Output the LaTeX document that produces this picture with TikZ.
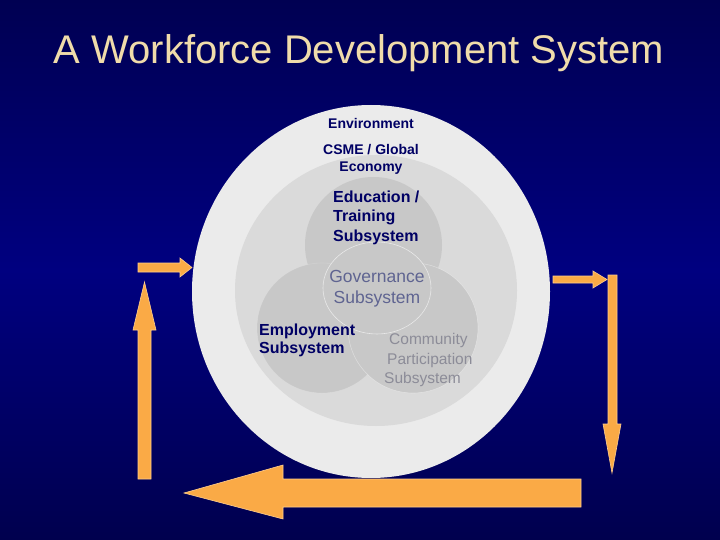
\documentclass[tikz,border=0pt]{standalone}
\usepackage{fontspec}
\setmainfont{Liberation Sans}
\definecolor{bgtop}{RGB}{0,0,82}
\definecolor{bgmid}{RGB}{0,0,128}
\definecolor{bgbot}{RGB}{0,0,78}
\definecolor{titlecol}{RGB}{240,220,170}
\definecolor{navytext}{RGB}{0,0,100}
\definecolor{govtext}{RGB}{95,100,145}
\definecolor{commtext}{RGB}{140,140,152}
\definecolor{outerfill}{RGB}{235,235,235}
\definecolor{midfill}{RGB}{218,218,218}
\definecolor{subfill}{RGB}{200,200,200}
\definecolor{arrowfill}{RGB}{250,170,70}
\definecolor{arrowedge}{RGB}{255,205,140}
\tikzset{
  arrowshape/.style={fill=arrowfill,draw=arrowedge,line width=0.6pt,line join=miter},
  subcircle/.style={fill=subfill,draw=white,draw opacity=0.45,line width=0.6pt},
  smalllabel/.style={font=\fontsize{14}{17}\selectfont\bfseries,text=navytext,inner sep=0pt,align=center},
  boldlabel/.style={font=\fontsize{16}{19}\selectfont\bfseries,text=navytext,inner sep=0pt,anchor=base west},
  govlabel/.style={font=\fontsize{17.5}{21}\selectfont,text=govtext,inner sep=0pt,anchor=base},
  commlabel/.style={font=\fontsize{15.5}{19}\selectfont,text=commtext,inner sep=0pt,anchor=base west},
}
\begin{document}
\begin{tikzpicture}[x=1pt,y=-1pt]
\useasboundingbox (0,0) rectangle (720,540);
% background
\shade[top color=bgtop,bottom color=bgbot,middle color=bgmid] (0,0) rectangle (720,540);
% title
\node[font=\fontsize{40}{46}\selectfont,text=titlecol,anchor=base,inner sep=0pt] (title) at (359,64) {A Workforce Development System};
% circles
\fill[outerfill] (371,291.5) ellipse [x radius=179,y radius=186.5];
\fill[midfill] (376,290.5) ellipse [x radius=141,y radius=135.5];
\fill[subfill] (373.5,245) ellipse [x radius=68.5,y radius=68];
\draw[subcircle,draw opacity=0.15] (322,328) circle [radius=65];
\draw[subcircle,draw opacity=0.35] (413,328) circle [radius=65];
\draw[subcircle,fill opacity=1,draw opacity=0.6] (377,288) ellipse [x radius=54,y radius=46];
% labels
\node[smalllabel,anchor=base] (env) at (371,129) {Environment};
\node[smalllabel,anchor=base] (csme1) at (371,155) {CSME / Global};
\node[smalllabel,anchor=base] (csme2) at (371,172) {Economy};
\node[boldlabel] (edu1) at (333,203) {Education /};
\node[boldlabel] (edu2) at (333,222) {Training};
\node[boldlabel] (edu3) at (333,241) {Subsystem};
\node[govlabel] (gov1) at (377,282) {Governance};
\node[govlabel] (gov2) at (377,303) {Subsystem};
\node[boldlabel] (emp1) at (259,335) {Employment};
\node[boldlabel] (emp2) at (259,353) {Subsystem};
\node[commlabel] (com1) at (389,344) {Community};
\node[commlabel] (com2) at (387,364) {Participation};
\node[commlabel] (com3) at (384,383) {Subsystem};
% arrows
\draw[arrowshape] (138,263) -- (180,263) -- (180,258) -- (192,267.5) -- (180,277) -- (180,272) -- (138,272) -- cycle;
\draw[arrowshape] (138,479) -- (138,330) -- (133,330) -- (144.5,282) -- (156,330) -- (151,330) -- (151,479) -- cycle;
\draw[arrowshape] (553,276) -- (593,276) -- (593,271) -- (607,279.5) -- (593,288) -- (593,283) -- (553,283) -- cycle;
\draw[arrowshape] (608,275) -- (617,275) -- (617,424) -- (621,424) -- (612,473) -- (603,424) -- (608,424) -- cycle;
\draw[arrowshape] (581,479) -- (283,479) -- (283,465) -- (184,493) -- (283,519) -- (283,507) -- (581,507) -- cycle;
\end{tikzpicture}
\end{document}
